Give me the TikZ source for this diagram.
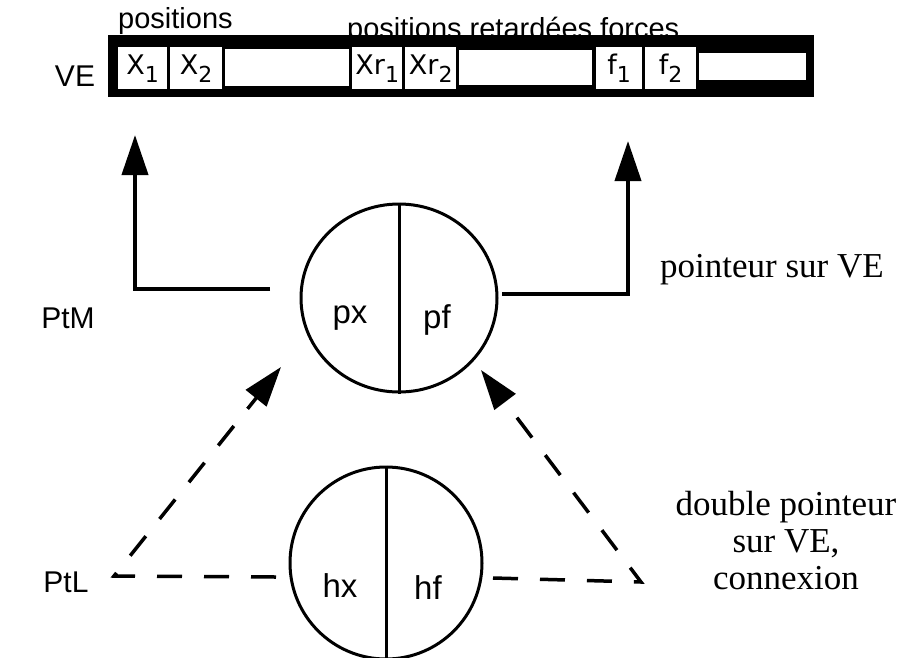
\documentclass[tikz,border=0pt]{standalone}
\usepackage{fontspec}
\usetikzlibrary{arrows.meta,shapes.geometric}
\newfontfamily\sansf{Liberation Sans}
\newfontfamily\cellf{DejaVu Sans}
\newfontfamily\serf{Liberation Serif}
\newcommand\subb[1]{\raisebox{-8pt}{\fontsize{22}{22}\selectfont #1}}
\begin{document}
\begin{tikzpicture}[x=1pt,y=-1pt,
 lab/.style={font=\sansf\fontsize{30}{32}\selectfont, inner sep=0pt},
 top/.style={font=\sansf\fontsize{29}{32}\selectfont, inner sep=0pt},
 big/.style={font=\sansf\fontsize{33}{36}\selectfont, inner sep=0pt},
 ser/.style={font=\serf\fontsize{35}{37}\selectfont, align=center, inner sep=0pt},
 cell/.style={fill=white, inner sep=0pt, anchor=north west, font=\cellf\fontsize{27}{28}\selectfont},
 half/.style={line width=3pt},
 ring/.style={draw, ellipse, line width=3pt, inner sep=0pt},
 ptr/.style={line width=4pt, -{Triangle[length=40pt,width=26pt]}},
 dptr/.style={line width=3.5pt, dash pattern=on 25pt off 22pt, -{Triangle[length=40pt,width=26pt]}},
]
\useasboundingbox (0,0) rectangle (905,657);
\fill[white] (0,0) rectangle (905,657);
\clip (0,0) rectangle (905,657);
% vector VE
\node[fill=black, anchor=north west, minimum width=706pt, minimum height=62pt, inner sep=0pt] (ve) at (108,35) {};
\node[cell, minimum width=49pt, minimum height=42pt] (x1) at (118,47) {X\subb{1}};
\node[cell, minimum width=52pt, minimum height=42pt] (x2) at (170,47) {X\subb{2}};
\node[cell, minimum width=124pt, minimum height=37pt] (e1) at (225,49) {};
\node[cell, minimum width=50pt, minimum height=42pt] (xr1) at (352,47) {Xr\subb{1}};
\node[cell, minimum width=51pt, minimum height=42pt] (xr2) at (405,47) {Xr\subb{2}};
\node[cell, minimum width=133pt, minimum height=35pt] (e2) at (459,50) {};
\node[cell, minimum width=46pt, minimum height=42pt] (f1) at (596,47) {f\subb{1}};
\node[cell, minimum width=51pt, minimum height=42pt] (f2) at (645,47) {f\subb{2}};
\node[cell, minimum width=107pt, minimum height=27pt] (e3) at (699,53) {};
% labels
\node[top, anchor=base west] (tpos) at (118,28) {positions};
\node[top, anchor=base west] (tret) at (347,38) {positions retardées forces};
\node[lab] (lve) at (75,76) {VE};
\node[lab] (lptm) at (68,318) {PtM};
\node[lab] (lptl) at (66,582) {PtL};
\node[ser] (tpm) at (772,270) {pointeur sur VE};
\node[ser] (tpl) at (786,541) {double pointeur\\sur VE,\\connexion};
% circles
\node[ring, minimum width=196pt, minimum height=188pt] (pm) at (399,298) {};
\draw[half] (pm.north) -- (pm.south);
\node[big] (px) at (350,318) {px};
\node[big] (pf) at (437,320) {pf};
\node[ring, minimum width=192pt, minimum height=192pt] (pl) at (386,563) {};
\draw[half] (pl.north) -- (pl.south);
\node[big] (hx) at (340,586) {hx};
\node[big] (hf) at (428,588) {hf};
% solid pointers
\coordinate (a0) at (270,289);
\coordinate (a1) at (135,289);
\coordinate (a2) at (135,135);
\draw[ptr] (a0) -- (a1) -- (a2);
\coordinate (b0) at (502,294);
\coordinate (b1) at (628,294);
\coordinate (b2) at (628,141);
\draw[ptr] (b0) -- (b1) -- (b2);
% dashed pointers
\coordinate (c0) at (276,577);
\coordinate (c1) at (114,576);
\coordinate (c2) at (281,367);
\draw[dptr] (c0) -- (c1) -- (c2);
\coordinate (d0) at (493,578);
\coordinate (d1) at (641,582);
\coordinate (d2) at (481,370);
\draw[dptr] (d0) -- (d1) -- (d2);
\end{tikzpicture}
\end{document}
